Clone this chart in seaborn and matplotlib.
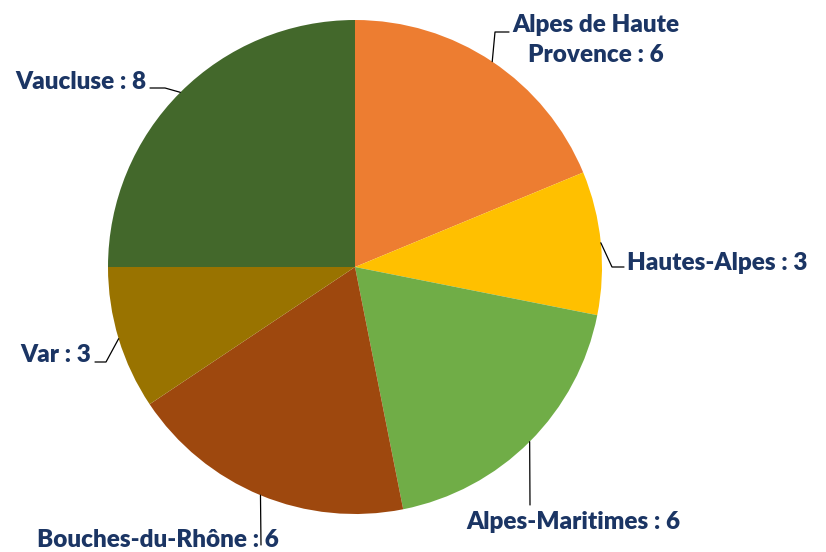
import numpy as np
import matplotlib
matplotlib.use("Agg")
import matplotlib.pyplot as plt
import seaborn as sns

# Data
departements = ["Alpes de Haute\nProvence", "Hautes-Alpes", "Alpes-Maritimes",
                "Bouches-du-Rhône", "Var", "Vaucluse"]
valeurs = [6, 3, 6, 6, 3, 8]
couleurs = ["#ED7D31", "#FFC000", "#70AD47", "#9E480E", "#997300", "#43682B"]

sns.set_style("white")
plt.rcParams['font.family'] = ['Lato', 'DejaVu Sans']

W, H, DPI = 826, 552, 100
cx, cy, R = 355, 267, 247  # pie centre / radius in pixels


def px(x, y):
    # pixel -> data coords (pie radius = 1)
    return (x - cx) / R, (cy - y) / R


fig = plt.figure(figsize=(W / DPI, H / DPI), dpi=DPI)
ax = fig.add_axes([0, 0, 1, 1])
wedges, _ = ax.pie(valeurs, colors=couleurs, startangle=90, counterclock=False,
                   radius=1, wedgeprops=dict(linewidth=0))
ax.set_xlim(px(0, 0)[0], px(W, 0)[0])
ax.set_ylim(px(0, H)[1], px(0, 0)[1])
ax.set_aspect("equal")
ax.axis("off")

# label layout: elbow points (pixels), text anchor, alignment
layout = [
    ([(495, 32), (509, 32)], (596, 40), "center"),
    ([(612, 267), (624, 267)], (627, 263), "left"),
    ([(530, 505)], (573, 522), "center"),
    ([(261, 545)], (158, 540), "center"),
    ([(106, 362), (95, 362)], (91, 355), "right"),
    ([(165, 88), (150, 88)], (146, 82), "right"),
]

for w, nom, v, (pts, (tx, ty), ha) in zip(wedges, departements, valeurs, layout):
    ang = np.deg2rad((w.theta1 + w.theta2) / 2)
    xs = [np.cos(ang)] + [px(*p)[0] for p in pts]
    ys = [np.sin(ang)] + [px(*p)[1] for p in pts]
    ax.plot(xs, ys, color="black", lw=0.9)
    x, y = px(tx, ty)
    ax.text(x, y, f"{nom} : {v}", ha=ha, va="center", multialignment="center",
            fontsize=17.5, fontweight="heavy", color="#1B3564", linespacing=1.45)

fig.savefig("out.png", dpi=DPI, facecolor="white")
